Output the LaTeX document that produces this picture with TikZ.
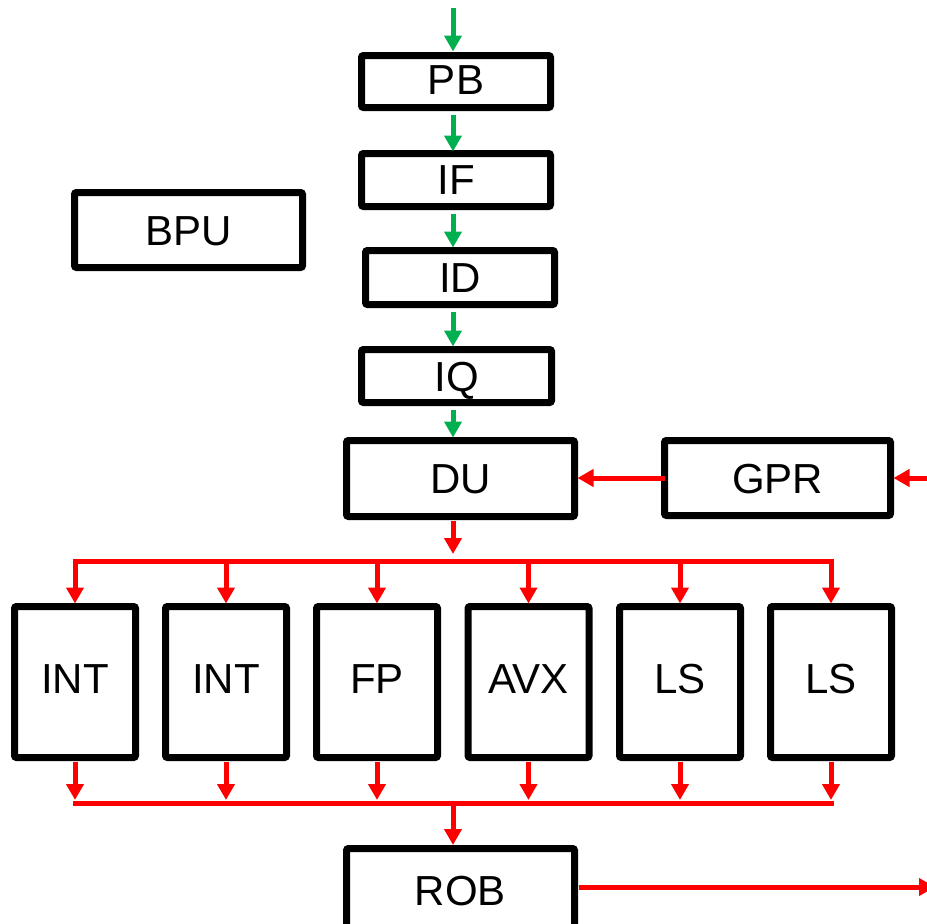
\documentclass[tikz,border=0pt]{standalone}
\usepackage{fontspec}
\setmainfont{Liberation Sans}
\usetikzlibrary{arrows.meta}
\definecolor{ggreen}{HTML}{00B050}
\definecolor{rred}{HTML}{FF0000}
\begin{document}
\begin{tikzpicture}[x=1pt,y=-1pt,
  box/.style={draw=black,line width=7pt,rounded corners=2pt,fill=white,inner sep=0pt,outer sep=0pt,
    font=\fontsize{42}{42}\selectfont,text height=30pt,text depth=0pt,anchor=center},
  unit/.style={box,minimum width=121pt,minimum height=151pt,text depth=8pt},
  garrow/.style={draw=ggreen,line width=5pt,-{Triangle[width=17pt,length=16pt]}},
  rarrow/.style={draw=rred,line width=5pt,-{Triangle[width=17pt,length=16pt]}},
  rline/.style={draw=rred,line width=5pt,line cap=rect}]
\useasboundingbox (0,0) rectangle (927,924);
% boxes
\node[box,minimum width=189pt,minimum height=52pt,text depth=4pt] (PB) at (456,81.5) {PB};
\node[box,minimum width=189pt,minimum height=53pt,text depth=2pt] (IF) at (456,180) {IF};
\node[box,minimum width=189pt,minimum height=54pt] (ID) at (460,277.5) {ID};
\node[box,minimum width=190pt,minimum height=53pt] (IQ) at (456.5,376) {IQ};
\node[box,minimum width=228pt,minimum height=76pt] (DU) at (460.5,478.5) {DU};
\node[box,minimum width=226pt,minimum height=75pt] (GPR) at (777.5,478) {GPR};
\node[box,minimum width=228pt,minimum height=75pt] (BPU) at (188.5,230) {BPU};
\node[box,minimum width=228pt,minimum height=83pt] (ROB) at (460.5,890) {ROB};
\node[unit] (U1) at (75,682) {INT};
\node[unit] (U2) at (226,682) {INT};
\node[unit] (U3) at (377,682) {FP};
\node[unit] (U4) at (528.5,682) {AVX};
\node[unit] (U5) at (680,682) {LS};
\node[unit] (U6) at (831,682) {LS};
% helper coordinates
\coordinate (ax) at (453,0);
\coordinate (tin) at (453,8);
\coordinate (gin) at (927,478);
\coordinate (rout) at (935,887);
\coordinate (bt) at (453,561);
\coordinate (bb) at (453,803);
\foreach \i/\x in {1/75,2/226,3/377,4/528.5,5/680,6/831}{
  \coordinate (t\i) at (\x,561);
  \coordinate (b\i) at (\x,803);
}
% green pipeline arrows
\draw[garrow,shorten >=4pt] (tin) -- (PB.north -| ax);
\draw[garrow,shorten <=7pt,shorten >=2pt] (PB.south -| ax) -- (IF.north -| ax);
\draw[garrow,shorten <=7pt,shorten >=3pt] (IF.south -| ax) -- (ID.north -| ax);
\draw[garrow,shorten <=7pt,shorten >=3pt] (ID.south -| ax) -- (IQ.north -| ax);
\draw[garrow,shorten <=7pt,shorten >=3pt] (IQ.south -| ax) -- (DU.north -| ax);
% red arrows
\draw[rarrow,shorten >=3pt] (gin) -- (GPR.east);
\draw[rarrow,shorten >=3pt] (GPR.west) -- (DU.east |- GPR.west);
\draw[rarrow,shorten <=4pt,shorten >=7pt] (DU.south -| ax) -- (bt);
\draw[rline] (t1) -- (t6);
\draw[rline] (b1) -- (b6);
\foreach \i in {1,...,6}{
  \draw[rarrow,shorten >=3pt] (t\i) -- (U\i.north);
  \draw[rarrow,shorten <=4pt,shorten >=3pt] (U\i.south) -- (b\i);
}
\draw[rarrow,shorten >=3.5pt] (bb) -- (ROB.north -| ax);
\draw[rarrow,shorten <=4pt] (ROB.east |- rout) -- (rout);
\end{tikzpicture}
\end{document}
